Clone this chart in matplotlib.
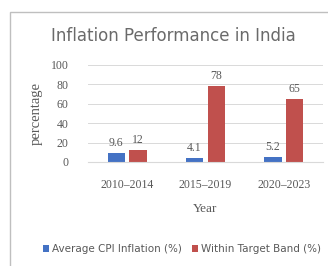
import matplotlib
matplotlib.use('Agg')
import matplotlib.pyplot as plt
from matplotlib.patches import Rectangle
import numpy as np

periods = ['2010–2014', '2015–2019', '2020–2023']
avg_cpi = [9.6, 4.1, 5.2]
within_band = [12, 78, 65]
yticks = [0, 20, 40, 60, 80, 100]

blue = '#4472C4'
red = '#C0504D'
grey = '#595959'

fig = plt.figure(figsize=(3.28, 2.66), dpi=100)
ax = fig.add_axes([0.268, 0.391, 0.717, 0.365])

x = np.arange(len(periods))
w = 0.22
b1 = ax.bar(x - 0.14, avg_cpi, w, color=blue, label='Average CPI Inflation (%)')
b2 = ax.bar(x + 0.14, within_band, w, color=red, label='Within Target Band (%)')
for bars, vals in ((b1, avg_cpi), (b2, within_band)):
    for r, v in zip(bars, vals):
        ax.text(r.get_x() + r.get_width() / 2, v + 4, f'{v:g}', ha='center', va='bottom',
                fontsize=8.5, color=grey, family='Liberation Serif')

ax.set_xlim(-0.5, 2.5)
ax.set_ylim(0, 100)
ax.set_yticks(yticks)
ax.set_xticks(x)
ax.set_xticklabels(periods, family='Liberation Serif', fontsize=8.5, color=grey)
ax.set_yticklabels([str(t) for t in yticks], family='Liberation Serif', fontsize=8.5, color=grey)
ax.tick_params(axis='y', length=0, pad=14)
ax.tick_params(axis='x', length=0, pad=12)
ax.grid(axis='y', color='#d9d9d9', linewidth=0.7)
ax.set_axisbelow(True)
for s in ['top', 'right', 'left']:
    ax.spines[s].set_visible(False)
ax.spines['bottom'].set_color('#d9d9d9')

ax.set_ylabel('percentage', family='Liberation Serif', fontsize=10.5, color=grey, labelpad=6)
ax.set_xlabel('Year', family='Liberation Serif', fontsize=9.5, color=grey, labelpad=9)
fig.text(0.53, 0.865, 'Inflation Performance in India', ha='center', va='center',
         fontsize=12, color='#6a6a6a')

ax.legend(loc='center', bbox_to_anchor=(0.555, 1 - 249 / 266), bbox_transform=fig.transFigure,
          ncol=2, frameon=False, fontsize=7.5, handlelength=0.6, handleheight=0.6,
          handletextpad=0.3, columnspacing=0.9, labelcolor=grey, borderaxespad=0)

fig.patches.append(Rectangle((10 / 328, -0.01), 1.0, 1 - 12 / 266 + 0.01,
                             transform=fig.transFigure, fill=False,
                             edgecolor='#bfbfbf', linewidth=1))

fig.savefig('out.png', dpi=100)
